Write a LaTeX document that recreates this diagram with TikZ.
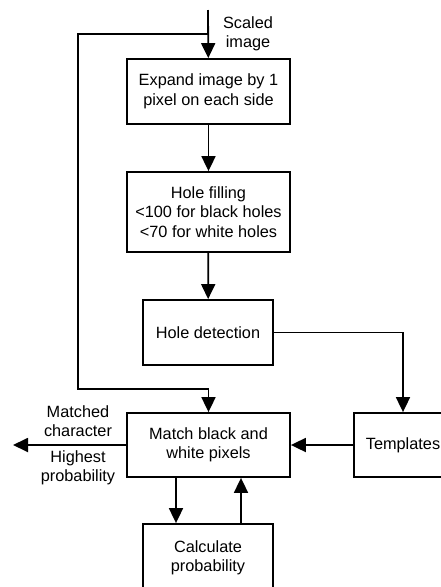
\documentclass[tikz,border=0pt]{standalone}
\usepackage{fontspec}
\setmainfont{Liberation Sans}
\usetikzlibrary{arrows.meta}

\begin{document}
\begin{tikzpicture}[x=1pt,y=-1pt,
              every node/.style={font=\fontsize{16.3}{19.5}\selectfont,align=center},
              block/.style={rectangle,draw,line width=1.8pt,inner sep=0pt},
              every path/.style={line width=1.8pt},
              tip/.style={-{Triangle[width=14pt,length=15pt]}}]
    \useasboundingbox (0,0) rectangle (440,587);

    \node[block,minimum width=163,minimum height=65] (expand) at (208.5,91.5)
        {Expand image by 1\\pixel on each side};
    \node[block,minimum width=163,minimum height=80] (fill) at (208.5,212)
        {Hole filling\\<100 for black holes\\<70 for white holes};
    \node[block,minimum width=130,minimum height=65] (detect) at (208,332.5) {Hole detection};
    \node[block,minimum width=163,minimum height=64] (match) at (208.5,445)
        {Match black and\\white pixels};
    \node[block,minimum width=98,minimum height=64] (tmpl) at (403,445) {Templates};
    \node[block,minimum width=130,minimum height=68] (calc) at (208,558)
        {Calculate\\probability};

    \coordinate (in) at (208,10);
    \coordinate (split) at (208,34);
    \coordinate (out) at (13,445);
    \node (scaled) at (248,34) {Scaled\\image};
    \node (matched) at (78,421) {Matched\\character};
    \node (highest) at (78,468) {Highest\\probability};

    \draw[tip] (in) -- (expand);
    \draw[tip] (expand) -- (fill);
    \draw[tip] (fill) -- (detect);
    \draw[tip] (split) -- (78,34) -- (78,389) -| (match.north);
    \draw[tip] (detect) -| (tmpl.north);
    \draw[tip] (tmpl) -- (match);
    \draw[tip] (match) -- (out);
    \draw[tip] ([xshift=-32.5]match.south) -- ([xshift=-32.5]match.south |- calc.north);
    \draw[tip] ([xshift=33]calc.north) -- ([xshift=33]calc.north |- match.south);
\end{tikzpicture}
\end{document}
